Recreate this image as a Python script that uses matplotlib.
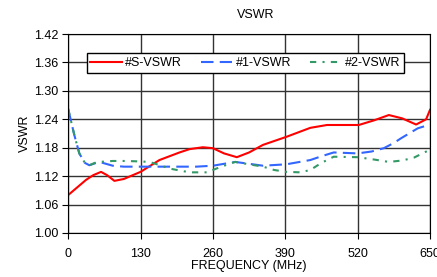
import matplotlib.pyplot as plt

plt.rcParams['font.family'] = ['Liberation Sans', 'DejaVu Sans']
plt.rcParams['font.size'] = 9

# values
s_freq = [0, 15, 32, 45, 59, 70, 83, 100, 130, 164, 200, 218, 242, 260, 280, 303, 325,
          350, 392, 435, 465, 522, 550, 576, 600, 625, 643, 650]
s_vswr = [1.080, 1.095, 1.112, 1.122, 1.129, 1.122, 1.110, 1.114, 1.129, 1.154, 1.170,
          1.177, 1.181, 1.179, 1.168, 1.160, 1.170, 1.186, 1.203, 1.222, 1.228, 1.228,
          1.238, 1.249, 1.242, 1.229, 1.240, 1.260]

a_freq = [0, 11, 20, 30, 38, 48, 56, 68, 80, 100, 128, 160, 200, 230, 260, 280, 300, 325,
          350, 392, 435, 455, 477, 520, 545, 567, 585, 598, 628, 650]
a_vswr = [1.262, 1.207, 1.168, 1.148, 1.143, 1.147, 1.150, 1.146, 1.142, 1.140, 1.140,
          1.140, 1.140, 1.140, 1.142, 1.146, 1.150, 1.146, 1.142, 1.145, 1.154, 1.162,
          1.170, 1.168, 1.172, 1.179, 1.190, 1.200, 1.221, 1.229]

b_freq = [0, 11, 20, 30, 38, 48, 56, 80, 104, 130, 146, 165, 182, 218, 249, 275, 300, 325,
          350, 370, 392, 417, 435, 455, 477, 520, 550, 576, 600, 621, 645, 650]
b_vswr = [1.262, 1.207, 1.168, 1.148, 1.143, 1.148, 1.150, 1.152, 1.152, 1.151, 1.150,
          1.143, 1.136, 1.128, 1.128, 1.140, 1.150, 1.145, 1.140, 1.133, 1.129, 1.128,
          1.133, 1.148, 1.161, 1.160, 1.155, 1.150, 1.153, 1.159, 1.173, 1.178]

xticks = [0, 130, 260, 390, 520, 650]
yticks = [1.00, 1.06, 1.12, 1.18, 1.24, 1.30, 1.36, 1.42]

fig = plt.figure(figsize=(4.37, 2.77), dpi=100)
ax = fig.add_axes([0.156, 0.159, 0.828, 0.718])

ax.plot(s_freq, s_vswr, color='#ff0000', lw=1.5, label='#S-VSWR')
ax.plot(a_freq, a_vswr, color='#3366ff', lw=1.5, dashes=(6, 3), label='#1-VSWR')
ax.plot(b_freq, b_vswr, color='#339966', lw=1.5, dashes=(3, 3, 1, 3), label='#2-VSWR')

ax.set_xlim(0, 650)
ax.set_ylim(1.00, 1.42)
ax.set_xticks(xticks)
ax.set_yticks(yticks)
ax.set_yticklabels(['%.2f' % v for v in yticks])
ax.grid(True, color='#333333', lw=1)
ax.set_axisbelow(True)
for sp in ax.spines.values():
    sp.set_color('black')
ax.tick_params(direction='out', length=4, color='black', labelsize=9, pad=3)
ax.tick_params(axis='x', pad=7)

ax.set_xlabel('FREQUENCY (MHz)', fontsize=9, labelpad=0)
ax.set_ylabel('VSWR', fontsize=9, labelpad=2)
fig.text(0.586, 0.945, 'VSWR', ha='center', va='center', fontsize=9)

leg = ax.legend(loc='upper center', bbox_to_anchor=(0.49, 0.935), ncol=3, frameon=True,
                fancybox=False, edgecolor='black', framealpha=1, fontsize=9,
                handlelength=2.5, columnspacing=1.5, borderpad=0.3, handletextpad=0.3)
leg.get_frame().set_linewidth(1)

fig.savefig('out.png', dpi=100)
